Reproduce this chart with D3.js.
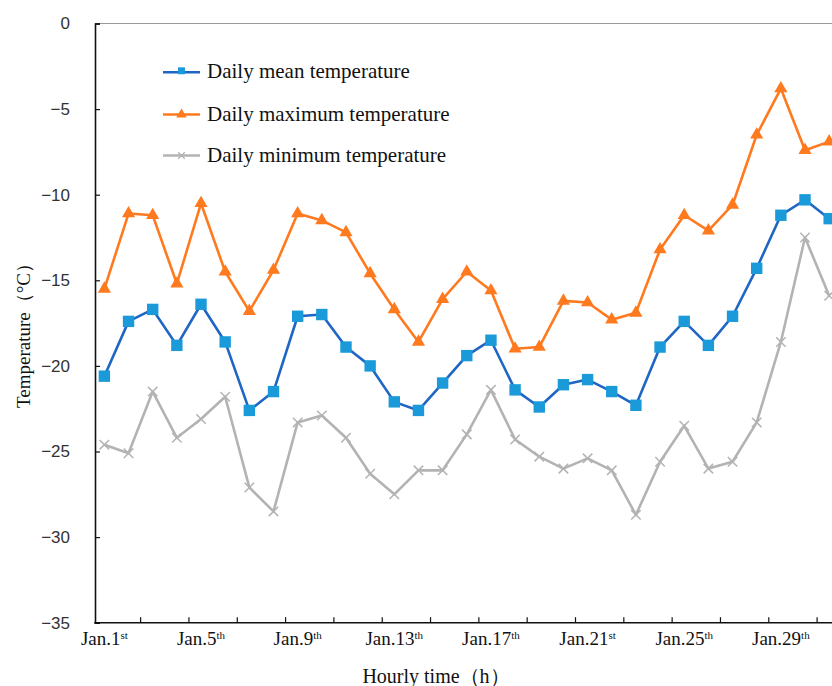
<!DOCTYPE html>
<html>
<head>
<meta charset="utf-8">
<script src="https://cdn.jsdelivr.net/npm/d3@7"></script>
<style>
  html, body { margin: 0; padding: 0; background: #fff; }
  svg { display: block; }
</style>
</head>
<body>
<svg id="chart" width="832" height="686"></svg>
<script>
// Days of January
const days = [1, 2, 3, 4, 5, 6, 7, 8, 9, 10, 11, 12, 13, 14, 15, 16,
              17, 18, 19, 20, 21, 22, 23, 24, 25, 26, 27, 28, 29, 30, 31];

// Daily temperatures (°C)
const meanTemp = [-20.6, -17.4, -16.7, -18.8, -16.4, -18.6, -22.6, -21.5, -17.1, -17.0,
                  -18.9, -20.0, -22.1, -22.6, -21.0, -19.4, -18.5, -21.4, -22.4, -21.1,
                  -20.8, -21.5, -22.3, -18.9, -17.4, -18.8, -17.1, -14.3, -11.2, -10.3, -11.4];
const maxTemp  = [-15.5, -11.1, -11.2, -15.2, -10.5, -14.5, -16.8, -14.4, -11.1, -11.5,
                  -12.2, -14.6, -16.7, -18.6, -16.1, -14.5, -15.6, -19.0, -18.9, -16.2,
                  -16.3, -17.3, -16.9, -13.2, -11.2, -12.1, -10.6, -6.5, -3.8, -7.4, -6.9];
const minTemp  = [-24.6, -25.1, -21.5, -24.2, -23.1, -21.8, -27.1, -28.5, -23.3, -22.9,
                  -24.2, -26.3, -27.5, -26.1, -26.1, -24.0, -21.4, -24.3, -25.3, -26.0,
                  -25.4, -26.1, -28.7, -25.6, -23.5, -26.0, -25.6, -23.3, -18.6, -12.5, -15.9];

// Axis labelling
const labelDays   = [1, 5, 9, 13, 17, 21, 25, 29];
const labelSuffix = ["st", "th", "th", "th", "th", "st", "th", "th"];
const yTicks = [0, -5, -10, -15, -20, -25, -30, -35];
const seriesNames = ["Daily mean temperature", "Daily maximum temperature", "Daily minimum temperature"];

const svg = d3.select("#chart");

const plotLeft = 95, plotTop = 23.5, plotBottom = 622.7;
const bandStart = 92.3, bandStep = 24.16;

const x = d3.scaleBand()
  .domain(days)
  .range([bandStart, bandStart + bandStep * days.length])
  .paddingInner(0).paddingOuter(0);
const cx = d => x(d) + x.bandwidth() / 2;

const y = d3.scaleLinear().domain([-35, 0]).range([plotBottom, plotTop]);

const serif = "'Liberation Serif', 'Times New Roman', serif";
const sans = "'Liberation Sans', Arial, sans-serif";

// Top border of plot area
svg.append("line")
  .attr("x1", plotLeft).attr("x2", 832)
  .attr("y1", plotTop).attr("y2", plotTop)
  .attr("stroke", "#9a9a9a").attr("stroke-width", 1.2);

// Y axis
const yAxis = svg.append("g")
  .attr("transform", `translate(${plotLeft},0)`)
  .call(d3.axisLeft(y).tickValues(yTicks).tickSize(-5).tickPadding(25)
    .tickFormat(d => d === 0 ? "0" : "\u2212" + Math.abs(d)));
yAxis.select(".domain").attr("stroke", "#111").attr("stroke-width", 1.6);
yAxis.selectAll(".tick line").attr("stroke", "#111").attr("stroke-width", 1.2);
yAxis.selectAll(".tick text")
  .attr("font-family", sans).attr("font-size", 17).attr("fill", "#333");

// X axis: ticks every two days at category boundaries
const boundaryDays = days.filter(d => d % 2 === 0 && d < 31);
const xAxisG = svg.append("g").attr("transform", `translate(0,${plotBottom})`);
xAxisG.append("line")
  .attr("x1", plotLeft - 0.8).attr("x2", 832)
  .attr("stroke", "#111").attr("stroke-width", 1.6);
xAxisG.selectAll("line.tk").data(boundaryDays).join("line")
  .attr("class", "tk")
  .attr("x1", d => x(d) + x.bandwidth()).attr("x2", d => x(d) + x.bandwidth())
  .attr("y1", 0).attr("y2", -5.5)
  .attr("stroke", "#111").attr("stroke-width", 1.2);

const xl = xAxisG.selectAll("text.xl").data(labelDays).join("text")
  .attr("class", "xl")
  .attr("x", d => cx(d))
  .attr("y", 22)
  .attr("text-anchor", "middle")
  .attr("font-family", serif).attr("font-size", 19).attr("fill", "#111");
xl.append("tspan").text(d => "Jan." + d);
xl.append("tspan")
  .attr("font-size", 11).attr("dy", -6)
  .text((d, i) => labelSuffix[i]);

// Axis titles
svg.append("text")
  .attr("x", 436).attr("y", 683)
  .attr("text-anchor", "middle")
  .attr("font-family", serif).attr("font-size", 20).attr("fill", "#111")
  .text("Hourly time\uFF08h\uFF09");

svg.append("text")
  .attr("transform", "translate(30,331) rotate(-90)")
  .attr("text-anchor", "middle")
  .attr("font-family", serif).attr("font-size", 19).attr("fill", "#111")
  .text("Temperature\uFF08°C\uFF09");

// Series
const series = [
  { name: seriesNames[0], values: meanTemp, line: "#1f66c4", fill: "#1a9ad9", symbol: d3.symbolSquare, size: 130 },
  { name: seriesNames[1], values: maxTemp,  line: "#ff7a1f", fill: "#ff7a1f", symbol: d3.symbolTriangle, size: 75 },
  { name: seriesNames[2], values: minTemp,  line: "#b3b3b3", fill: "#b3b3b3", symbol: d3.symbolX, size: 60 }
];

const lineGen = d3.line().x((v, i) => cx(days[i])).y(v => y(v));

const drawOrder = [2, 0, 1];
drawOrder.forEach(k => {
  const s = series[k];
  const g = svg.append("g");
  g.append("path")
    .attr("d", lineGen(s.values))
    .attr("fill", "none")
    .attr("stroke", s.line).attr("stroke-width", 2.6)
    .attr("stroke-linejoin", "round");
  const marks = g.selectAll("path.m").data(s.values).join("path")
    .attr("class", "m")
    .attr("transform", (v, i) => `translate(${cx(days[i])},${y(v)})`)
    .attr("d", d3.symbol(s.symbol, s.size));
  if (s.symbol === d3.symbolX) {
    marks.attr("fill", "none").attr("stroke", s.line).attr("stroke-width", 1.5);
  } else {
    marks.attr("fill", s.fill).attr("stroke", "none");
  }
});

// Legend
const legendRows = [72.3, 114.5, 155.5];
const lg = svg.append("g");
series.forEach((s, i) => {
  const ly = legendRows[i];
  lg.append("line")
    .attr("x1", 163).attr("x2", 200).attr("y1", ly).attr("y2", ly)
    .attr("stroke", s.line).attr("stroke-width", 2.6);
  const m = lg.append("path")
    .attr("transform", `translate(181.5,${ly - (s.symbol === d3.symbolSquare ? 1.5 : 0)})`)
    .attr("d", d3.symbol(s.symbol, s.symbol === d3.symbolX ? 30 : 48));
  if (s.symbol === d3.symbolX) {
    m.attr("fill", "none").attr("stroke", s.line).attr("stroke-width", 1.3);
  } else {
    m.attr("fill", s.fill);
  }
  lg.append("text")
    .attr("x", 207).attr("y", ly + 6)
    .attr("font-family", serif).attr("font-size", 21).attr("fill", "#111")
    .text(s.name);
});
</script>
</body>
</html>
